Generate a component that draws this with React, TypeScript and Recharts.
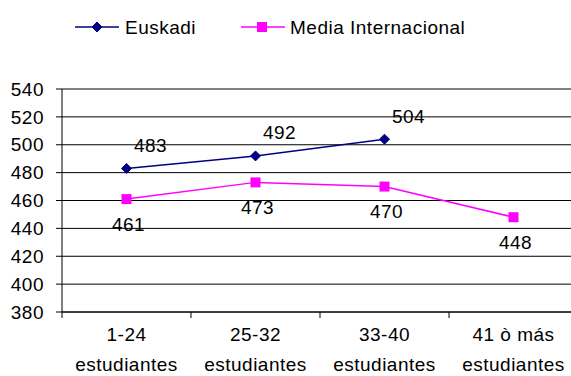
import React from 'react';
import { LineChart, Line, XAxis, YAxis, CartesianGrid, Legend, LabelList } from 'recharts';

const categories = ['1-24\nestudiantes', '25-32\nestudiantes', '33-40\nestudiantes', '41 ò más\nestudiantes'];
const euskadi = [483, 492, 504, null];
const mediaInternacional = [461, 473, 470, 448];
const yTicks = [380, 400, 420, 440, 460, 480, 500, 520, 540];
const edgeTicks = [0, 1, 2, 3, 4];

const NAVY = '#000080';
const MAGENTA = '#FF00FF';
const FONT = '"Liberation Sans", Arial, sans-serif';
const SPACING = 0.5;

const data = categories.map((cat, i) => ({
  cat,
  pos: i + 0.5,
  euskadi: euskadi[i],
  media: mediaInternacional[i],
}));

const Diamond = ({ cx, cy, r = 5, fill }: any) => {
  if (cx == null || cy == null) return <g />;
  return <path d={`M${cx},${cy - r}L${cx + r},${cy}L${cx},${cy + r}L${cx - r},${cy}Z`} fill={fill} stroke={fill} />;
};

const Square = ({ cx, cy, r = 5, fill }: any) => {
  if (cx == null || cy == null) return <g />;
  return <rect x={cx - r} y={cy - r} width={r * 2} height={r * 2} fill={fill} />;
};

function CatTick({ x, y, payload }: any) {
  const [l1, l2] = String(payload.value).split('\n');
  return (
    <text x={x} y={y} textAnchor="middle" fontSize={19} fontFamily={FONT} fill="#000" letterSpacing={SPACING}>
      <tspan x={x} dy={20}>{l1}</tspan>
      <tspan x={x} dy={30}>{l2}</tspan>
    </text>
  );
}

function LegendBox() {
  return (
    <svg width={571} height={44}>
      <line x1={75} x2={119} y1={27} y2={27} stroke={NAVY} strokeWidth={1.5} />
      <Diamond cx={97} cy={27} r={5} fill={NAVY} />
      <text x={125} y={34} fontSize={19} fontFamily={FONT} fill="#000" letterSpacing={SPACING}>Euskadi</text>
      <line x1={241} x2={285} y1={27} y2={27} stroke={MAGENTA} strokeWidth={1.5} />
      <Square cx={262} cy={27} r={5} fill={MAGENTA} />
      <text x={290} y={34} fontSize={19} fontFamily={FONT} fill="#000" letterSpacing={SPACING}>Media Internacional</text>
    </svg>
  );
}

const labelStyle = (dx: number, dy: number) => (props: any) => {
  const { x, y, value } = props;
  if (value == null) return null;
  return (
    <text x={x + dx} y={y + dy} textAnchor="middle" dominantBaseline="central" fontSize={19} fontFamily={FONT} fill="#000" letterSpacing={SPACING}>
      {value}
    </text>
  );
};

export default function App() {
  return (
    <div style={{ position: 'absolute', left: 0, top: 0, width: 571, height: 376, overflow: 'hidden', background: '#fff' }}>
      <LineChart width={590} height={376} data={data} margin={{ top: 89, right: 12, left: 0, bottom: 0 }}>
        <CartesianGrid vertical={false} stroke="#000" />
        <XAxis
          type="number"
          dataKey="pos"
          domain={[0, 4]}
          ticks={edgeTicks}
          height={1}
          tick={() => <g />}
          tickSize={6}
          axisLine={{ stroke: '#000' }}
          tickLine={{ stroke: '#000' }}
        />
        <XAxis
          xAxisId="cat"
          dataKey="cat"
          type="category"
          scale="band"
          height={63}
          axisLine={false}
          tickLine={false}
          interval={0}
          tick={<CatTick />}
        />
        <YAxis
          domain={[380, 540]}
          ticks={yTicks}
          width={62}
          tickSize={6}
          tickMargin={12}
          axisLine={{ stroke: '#000' }}
          tickLine={{ stroke: '#000' }}
          tick={{ fontSize: 19, fontFamily: FONT, fill: '#000', letterSpacing: SPACING }}
        />
        <Legend verticalAlign="middle" wrapperStyle={{ top: 0, left: 0, width: 571 }} content={() => <LegendBox />} />
        <Line
          dataKey="euskadi"
          stroke={NAVY}
          strokeWidth={1.5}
          dot={(p: any) => <Diamond key={`e${p.index}`} cx={p.cx} cy={p.cy} r={5} fill={NAVY} />}
          activeDot={false}
          connectNulls={false}
          isAnimationActive={false}
        >
          <LabelList dataKey="euskadi" content={labelStyle(24, -23)} />
        </Line>
        <Line
          dataKey="media"
          stroke={MAGENTA}
          strokeWidth={1.5}
          dot={(p: any) => <Square key={`m${p.index}`} cx={p.cx} cy={p.cy} r={5} fill={MAGENTA} />}
          activeDot={false}
          isAnimationActive={false}
        >
          <LabelList dataKey="media" content={labelStyle(2, 25)} />
        </Line>
      </LineChart>
    </div>
  );
}
